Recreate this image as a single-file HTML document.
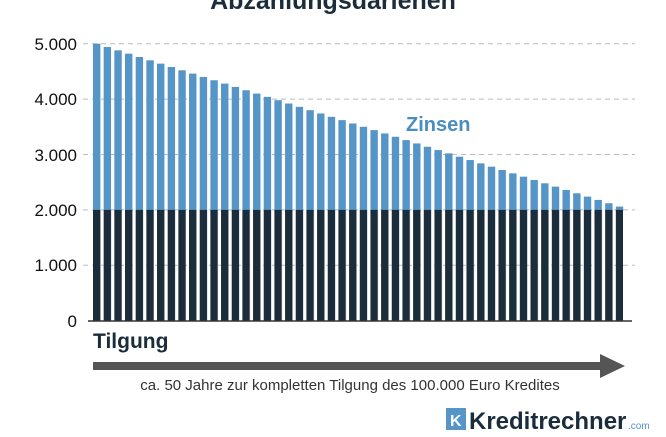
<!DOCTYPE html>
<html><head><meta charset="utf-8"><style>
body{margin:0;width:666px;height:432px;overflow:hidden;background:#fff;font-family:"Liberation Sans",sans-serif;}
</style></head><body>
<svg width="666" height="432" xmlns="http://www.w3.org/2000/svg">
<defs><pattern id="p" patternUnits="userSpaceOnUse" x="93" y="0" width="10.67" height="10"><rect x="0" y="0" width="7.4" height="10" fill="#1b2d3b"/></pattern></defs>
<text x="333" y="9" text-anchor="middle" font-size="25" font-weight="bold" fill="#1b2d3b">Abzahlungsdarlehen</text>
<g stroke="#bbb" stroke-dasharray="5,4" stroke-width="1">
<line x1="83" y1="43.7" x2="635" y2="43.7"/>
<line x1="83" y1="99.1" x2="635" y2="99.1"/>
<line x1="83" y1="154.5" x2="635" y2="154.5"/>
<line x1="83" y1="209.9" x2="635" y2="209.9"/>
<line x1="83" y1="265.3" x2="635" y2="265.3"/>
</g>
<g font-size="17" fill="#111" text-anchor="end">
<text x="77" y="50">5.000</text>
<text x="77" y="105">4.000</text>
<text x="77" y="161">3.000</text>
<text x="77" y="216">2.000</text>
<text x="77" y="271">1.000</text>
<text x="77" y="327">0</text>
</g>
<g fill="#5595c8">
<rect x="93" y="43.7" width="7.4" height="167"/>
<rect x="103.67" y="47.02" width="7.4" height="163.7"/>
<rect x="114.34" y="50.35" width="7.4" height="160.4"/>
<rect x="125.01" y="53.67" width="7.4" height="157"/>
<rect x="135.68" y="57" width="7.4" height="153.7"/>
<rect x="146.35" y="60.32" width="7.4" height="150.4"/>
<rect x="157.02" y="63.64" width="7.4" height="147.1"/>
<rect x="167.69" y="66.97" width="7.4" height="143.7"/>
<rect x="178.36" y="70.29" width="7.4" height="140.4"/>
<rect x="189.03" y="73.62" width="7.4" height="137.1"/>
<rect x="199.7" y="76.94" width="7.4" height="133.8"/>
<rect x="210.37" y="80.26" width="7.4" height="130.4"/>
<rect x="221.04" y="83.59" width="7.4" height="127.1"/>
<rect x="231.71" y="86.91" width="7.4" height="123.8"/>
<rect x="242.38" y="90.24" width="7.4" height="120.5"/>
<rect x="253.05" y="93.56" width="7.4" height="117.1"/>
<rect x="263.72" y="96.88" width="7.4" height="113.8"/>
<rect x="274.39" y="100.21" width="7.4" height="110.5"/>
<rect x="285.06" y="103.53" width="7.4" height="107.2"/>
<rect x="295.73" y="106.86" width="7.4" height="103.8"/>
<rect x="306.4" y="110.18" width="7.4" height="100.5"/>
<rect x="317.07" y="113.5" width="7.4" height="97.2"/>
<rect x="327.74" y="116.83" width="7.4" height="93.9"/>
<rect x="338.41" y="120.15" width="7.4" height="90.5"/>
<rect x="349.08" y="123.48" width="7.4" height="87.2"/>
<rect x="359.75" y="126.8" width="7.4" height="83.9"/>
<rect x="370.42" y="130.12" width="7.4" height="80.6"/>
<rect x="381.09" y="133.45" width="7.4" height="77.2"/>
<rect x="391.76" y="136.77" width="7.4" height="73.9"/>
<rect x="402.43" y="140.1" width="7.4" height="70.6"/>
<rect x="413.1" y="143.42" width="7.4" height="67.3"/>
<rect x="423.77" y="146.74" width="7.4" height="64"/>
<rect x="434.44" y="150.07" width="7.4" height="60.6"/>
<rect x="445.11" y="153.39" width="7.4" height="57.3"/>
<rect x="455.78" y="156.72" width="7.4" height="54"/>
<rect x="466.45" y="160.04" width="7.4" height="50.7"/>
<rect x="477.12" y="163.36" width="7.4" height="47.3"/>
<rect x="487.79" y="166.69" width="7.4" height="44"/>
<rect x="498.46" y="170.01" width="7.4" height="40.7"/>
<rect x="509.13" y="173.34" width="7.4" height="37.4"/>
<rect x="519.8" y="176.66" width="7.4" height="34"/>
<rect x="530.47" y="179.98" width="7.4" height="30.7"/>
<rect x="541.14" y="183.31" width="7.4" height="27.4"/>
<rect x="551.81" y="186.63" width="7.4" height="24.1"/>
<rect x="562.48" y="189.96" width="7.4" height="20.7"/>
<rect x="573.15" y="193.28" width="7.4" height="17.4"/>
<rect x="583.82" y="196.6" width="7.4" height="14.1"/>
<rect x="594.49" y="199.93" width="7.4" height="10.8"/>
<rect x="605.16" y="203.25" width="7.4" height="7.5"/>
<rect x="615.83" y="206.58" width="7.4" height="4.1"/>
</g>
<rect x="93" y="209.9" width="530" height="110.8" fill="url(#p)"/>
<line x1="88" y1="321" x2="632" y2="321" stroke="#333" stroke-width="1.5"/>
<text x="406" y="131" font-size="20" font-weight="bold" fill="#4a8dc0">Zinsen</text>
<text x="93" y="348" font-size="21" font-weight="bold" fill="#1b2d3b">Tilgung</text>
<rect x="93" y="362" width="510" height="8" fill="#555"/>
<polygon points="600,354 625,366 600,378" fill="#555"/>
<text x="350" y="390" font-size="15" fill="#333" text-anchor="middle">ca. 50 Jahre zur kompletten Tilgung des 100.000 Euro Kredites</text>
<rect x="446" y="408" width="20" height="22" fill="#5595c8"/>
<text x="450" y="426" font-size="16" font-weight="bold" fill="#fff">K</text>
<text x="469" y="429" font-size="24" font-weight="bold" fill="#1b2d3b">Kreditrechner</text>
<text x="628" y="429" font-size="10" fill="#5595c8">.com</text>
</svg>
</body></html>
